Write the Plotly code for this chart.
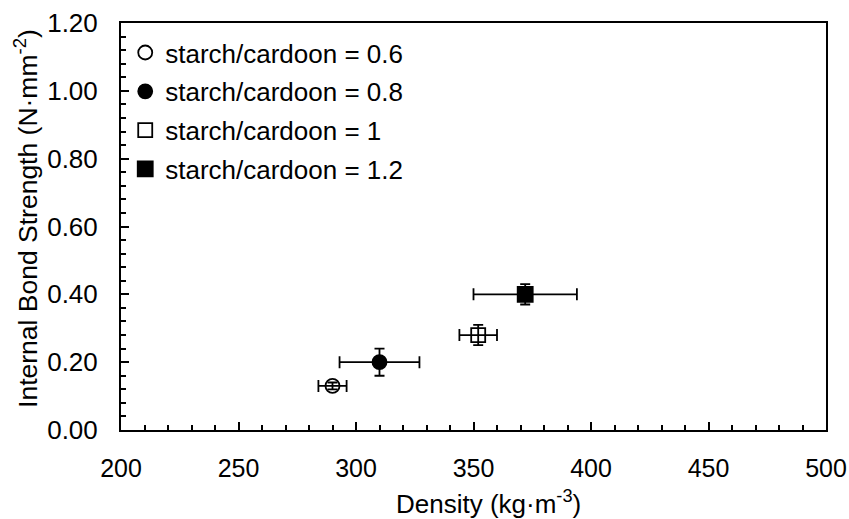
import plotly.graph_objects as go

labels = ["starch/cardoon = 0.6", "starch/cardoon = 0.8", "starch/cardoon = 1", "starch/cardoon = 1.2"]
density = [290, 310, 352, 372]
density_err = [6, 17, 8, 22]
ib = [0.13, 0.20, 0.28, 0.40]
ib_err = [0.01, 0.04, 0.03, 0.03]
symbols = ["circle-open", "circle", "square-open", "square"]
marker_sizes = [14, 14, 14, 15]
x_title = "Density (kg·m<sup>-3</sup>)"
y_title = "Internal Bond Strength (N·mm<sup>-2</sup>)"

fig = go.Figure()
for i in range(len(labels)):
    fig.add_trace(go.Scatter(
        x=[density[i]], y=[ib[i]], mode="markers", name=labels[i],
        legendgroup=f"g{i}",
        marker=dict(symbol=symbols[i], size=marker_sizes[i], color="black",
                    line=dict(color="black", width=1.8)),
        error_x=dict(type="data", array=[density_err[i]], color="black", thickness=1.8, width=6),
        error_y=dict(type="data", array=[ib_err[i]], color="black", thickness=1.8, width=5),
    ))

font = "Liberation Sans, Arial, sans-serif"
fig.update_layout(
    width=849, height=519,
    margin=dict(l=121, r=23, t=23, b=89),
    paper_bgcolor="white", plot_bgcolor="white",
    font=dict(family=font, color="black", size=22),
    showlegend=True,
    legend=dict(x=0.006, y=0.985, xanchor="left", yanchor="top", bgcolor="rgba(0,0,0,0)",
                font=dict(size=26, family=font), tracegroupgap=2, traceorder="grouped",
                itemwidth=30),
    xaxis=dict(range=[200, 500], dtick=50, showgrid=False, zeroline=False, automargin=False,
               showline=True, linecolor="black", linewidth=2, mirror=True,
               ticks="inside", ticklen=8, tickwidth=1.8, tickcolor="black",
               minor=dict(dtick=10, ticks="inside", ticklen=5, tickwidth=1.8, tickcolor="black", showgrid=False),
               tickfont=dict(size=25), ticklabelstandoff=15),
    yaxis=dict(range=[0, 1.2], dtick=0.2, tickformat=".2f", showgrid=False, zeroline=False, automargin=False,
               showline=True, linecolor="black", linewidth=2, mirror=True,
               ticks="inside", ticklen=8, tickwidth=1.8, tickcolor="black",
               minor=dict(dtick=0.04, ticks="inside", ticklen=5, tickwidth=1.8, tickcolor="black", showgrid=False),
               tickfont=dict(size=26), ticklabelstandoff=16),
    annotations=[
        dict(text=x_title, xref="paper", yref="paper", x=0.5206, y=-0.179,
             xanchor="center", yanchor="middle", showarrow=False, font=dict(size=26)),
        dict(text=y_title, xref="paper", yref="paper", x=-0.1348, y=0.5209, textangle=-90,
             xanchor="center", yanchor="middle", showarrow=False, font=dict(size=26.5)),
    ],
)
fig.write_html("out.html", config={"displayModeBar": False},
               post_script="document.body.style.margin='0';document.body.style.overflow='hidden';")
